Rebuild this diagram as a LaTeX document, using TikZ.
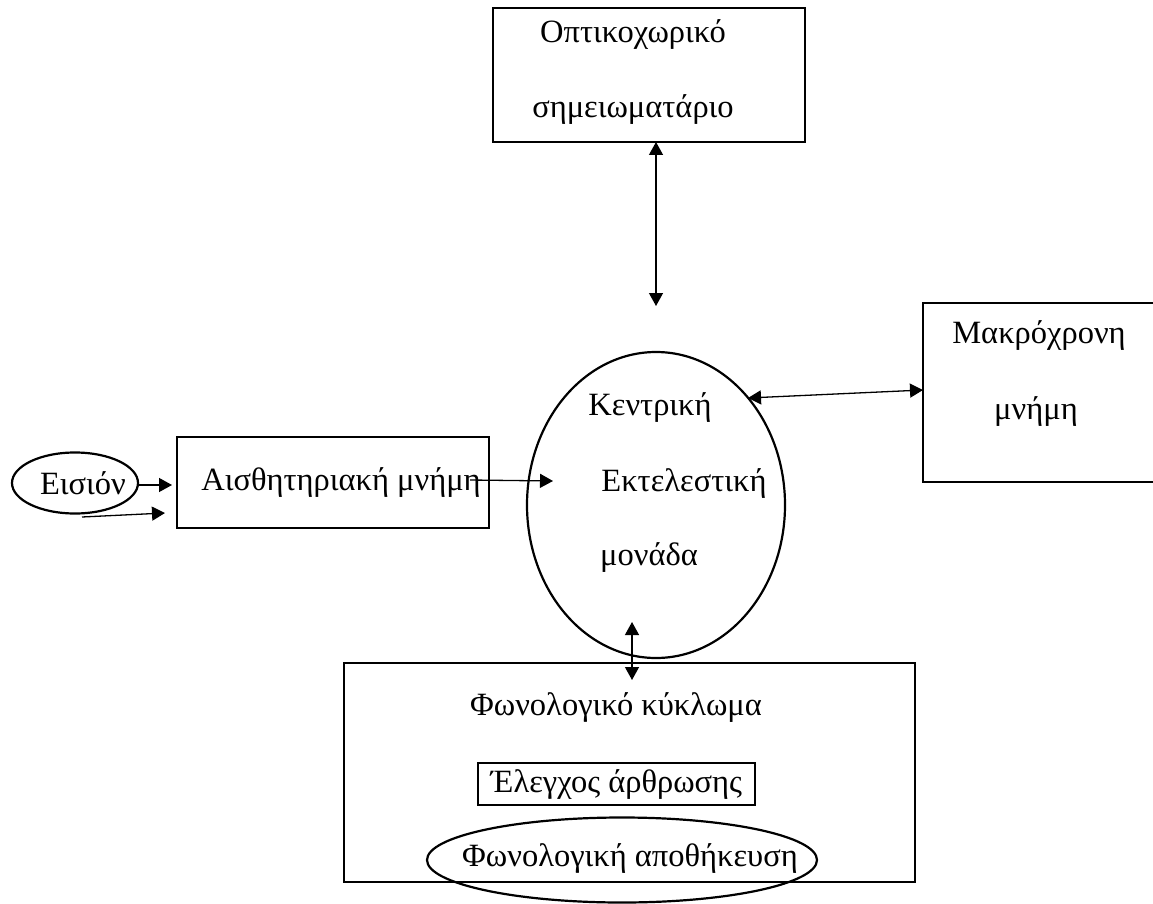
\documentclass[tikz,border=0pt]{standalone}
\usepackage{fontspec}
\setmainfont{Liberation Serif}
\usetikzlibrary{shapes.geometric,arrows.meta}
\begin{document}
\begin{tikzpicture}[x=1pt,y=-1pt,
  boxst/.style={draw,line width=2.4pt,rectangle,inner sep=0pt},
  ellst/.style={draw,line width=2.2pt,ellipse,inner sep=0pt},
  lbl/.style={font=\fontsize{32.5}{36}\selectfont,inner sep=0pt},
  conn/.style={line width=1.3pt,-{Triangle[length=13pt,width=14pt]}},
  bconn/.style={line width=1.3pt,{Triangle[length=13pt,width=14pt]}-{Triangle[length=13pt,width=14pt]}}]
\useasboundingbox (0,0) rectangle (1153,904);
% boxes
\node[boxst,minimum width=312pt,minimum height=134pt] (vs) at (649,75) {};
\node[lbl] (vs1) at (633,35) {Οπτικοχωρικό};
\node[lbl] (vs2) at (633,110) {σημειωματάριο};
\node[ellst,minimum width=258pt,minimum height=306pt] (ce) at (656,505) {};
\node[lbl] (ce1) at (650,407) {Κεντρική};
\node[lbl] (ce2) at (684,483) {Εκτελεστική};
\node[lbl] (ce3) at (649,558) {μονάδα};
\draw[line width=2.4pt] (1160,303) -- (923,303) -- (923,482) -- (1160,482);
\node[lbl] (lt1) at (1039,335) {Μακρόχρονη};
\node[lbl] (lt2) at (1036,412) {μνήμη};
\node[ellst,minimum width=126pt,minimum height=61pt] (in) at (75,483) {};
\node[lbl] (inl) at (83,483) {Εισιόν};
\node[boxst,minimum width=312pt,minimum height=91pt] (sm) at (333,482.5) {};
\node[lbl] (sml) at (341,483) {Αισθητηριακή μνήμη};
\node[boxst,minimum width=571pt,minimum height=219pt] (pl) at (629.5,772.5) {};
\node[lbl] (pll) at (616,708) {Φωνολογικό κύκλωμα};
\node[boxst,minimum width=277pt,minimum height=42pt] (ar) at (616.5,784) {};
\node[lbl] (arl) at (616.5,784) {Έλεγχος άρθρωσης};
\node[ellst,minimum width=390pt,minimum height=85pt] (ps) at (622,860) {};
\node[lbl] (psl) at (630,858) {Φωνολογική αποθήκευση};
% connector ends
\coordinate (a1s) at (656,142);
\coordinate (a1e) at (656,306);
\coordinate (a2s) at (748,398);
\coordinate (a2e) at (923,390);
\coordinate (a3s) at (138,485);
\coordinate (a3e) at (172,485);
\coordinate (a4s) at (82,517);
\coordinate (a4e) at (165,513);
\coordinate (a5s) at (470,480);
\coordinate (a5e) at (553,481);
\coordinate (a6s) at (632,622);
\coordinate (a6e) at (632,680);
\draw[bconn] (a1s) -- (a1e);
\draw[bconn] (a2s) -- (a2e);
\draw[conn] (a3s) -- (a3e);
\draw[conn] (a4s) -- (a4e);
\draw[conn] (a5s) -- (a5e);
\draw[bconn] (a6s) -- (a6e);
\end{tikzpicture}
\end{document}
